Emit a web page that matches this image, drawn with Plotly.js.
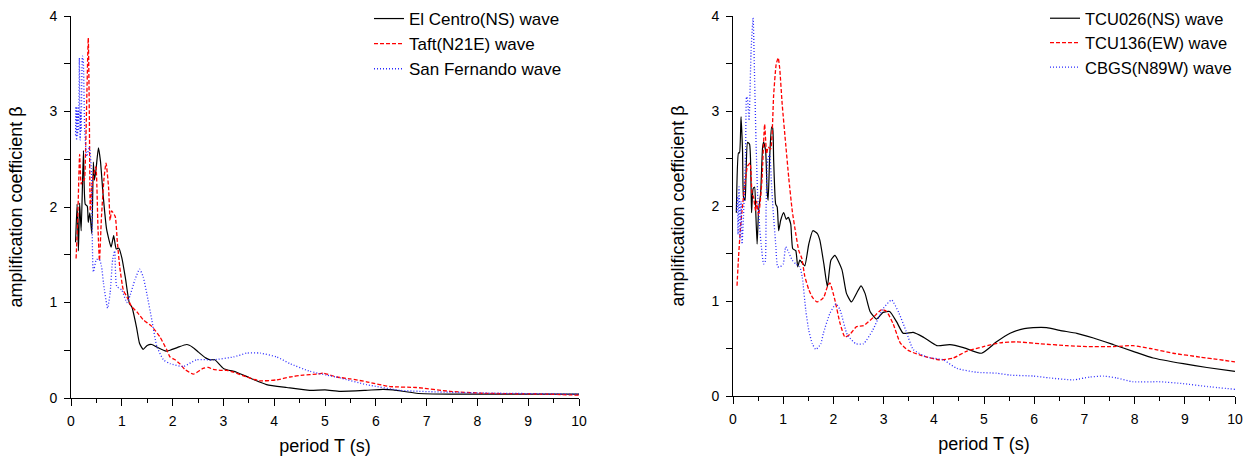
<!DOCTYPE html>
<html><head><meta charset="utf-8">
<script src="https://cdn.plot.ly/plotly-3.0.1.min.js"></script>
<style>html,body{margin:0;padding:0;background:#fff}#chart{width:1252px;height:460px}</style>
</head><body><div id="chart"></div>
<script>
// ---- Left panel: El Centro / Taft / San Fernando ----
const elCentroT = [0.09,0.12,0.146,0.17,0.2,0.245,0.28,0.32,0.34,0.37,0.41,0.44,0.46,0.49,0.54,0.58,0.63,0.70,0.79,0.84,0.89,0.94,1.0,1.07,1.15,1.2,1.29,1.35,1.42,1.5,1.59,1.7,1.87,1.95,2.1,2.28,2.4,2.51,2.65,2.74,2.83,3.0,3.26,3.52,3.85,4.25,4.7,5.0,5.3,5.8,6.14,6.34,6.8,7.46,8.1,9.0,10];
const elCentroB = [1.63,2.03,1.54,2.04,1.75,2.59,2.03,2.01,1.84,1.94,1.72,2.47,2.28,2.38,2.62,2.48,2.14,1.77,1.58,1.70,1.56,1.57,1.47,1.26,0.99,0.95,0.74,0.57,0.51,0.55,0.56,0.53,0.49,0.50,0.53,0.56,0.53,0.48,0.42,0.40,0.40,0.31,0.27,0.21,0.14,0.11,0.08,0.085,0.07,0.08,0.09,0.085,0.05,0.04,0.04,0.04,0.04];

const taftT = [0.1,0.13,0.17,0.2,0.23,0.26,0.29,0.34,0.36,0.38,0.41,0.45,0.49,0.53,0.56,0.6,0.65,0.69,0.74,0.77,0.8,0.87,0.91,0.96,1.03,1.1,1.19,1.3,1.42,1.59,1.75,1.88,1.95,2.05,2.14,2.24,2.41,2.6,2.7,2.8,2.93,3.07,3.2,3.46,3.72,4.05,4.31,4.57,4.84,4.97,5.23,5.5,5.82,6.28,6.8,7.46,8.1,9.4,10];
const taftB = [1.46,1.82,2.55,2.24,2.28,2.28,2.66,3.77,3.0,1.96,2.21,2.35,2.42,1.8,1.44,1.9,2.3,2.46,2.2,1.86,1.96,1.9,1.65,1.37,1.13,1.06,0.96,0.9,0.82,0.75,0.64,0.51,0.43,0.40,0.36,0.30,0.25,0.31,0.32,0.30,0.29,0.29,0.27,0.22,0.18,0.19,0.22,0.24,0.25,0.26,0.22,0.20,0.17,0.12,0.11,0.07,0.05,0.04,0.03];

const sanFernT = [0.09,0.1,0.11,0.12,0.13,0.14,0.15,0.165,0.18,0.19,0.2,0.225,0.24,0.27,0.31,0.36,0.4,0.44,0.5,0.56,0.6,0.64,0.72,0.77,0.82,0.86,0.9,1.0,1.1,1.16,1.26,1.35,1.42,1.49,1.59,1.69,1.82,1.95,2.21,2.47,2.8,3.2,3.46,3.72,4.05,4.31,4.7,5.03,5.3,5.82,6.48,7.46,8.44,10];
const sanFernB = [2.75,3.05,2.7,3.0,2.75,3.05,2.8,3.56,2.7,3.0,2.8,3.58,3.55,2.8,2.53,2.63,2.4,1.32,1.45,1.45,1.38,1.2,0.94,1.1,1.45,1.54,1.17,1.13,1.0,1.07,1.24,1.35,1.27,1.1,0.82,0.54,0.40,0.36,0.33,0.40,0.40,0.43,0.47,0.47,0.43,0.36,0.28,0.24,0.21,0.14,0.08,0.06,0.05,0.04];

// ---- Right panel: TCU026 / TCU136 / CBGS ----
const tcu026T = [0.067,0.11,0.13,0.16,0.19,0.21,0.24,0.26,0.29,0.33,0.36,0.37,0.4,0.43,0.45,0.48,0.51,0.55,0.59,0.61,0.65,0.68,0.7,0.73,0.77,0.79,0.81,0.85,0.88,0.91,0.95,1.01,1.06,1.1,1.15,1.19,1.25,1.29,1.33,1.38,1.43,1.51,1.59,1.68,1.73,1.81,1.88,1.95,2.03,2.17,2.26,2.36,2.47,2.55,2.63,2.73,2.86,2.99,3.12,3.26,3.39,3.59,3.79,4.06,4.32,4.59,4.95,5.25,5.52,5.8,5.98,6.25,6.51,6.85,7.18,7.58,7.97,8.37,8.97,9.44,10];
const tcu026B = [1.93,2.56,2.56,2.94,2.58,2.09,2.06,2.35,2.67,2.65,2.2,1.93,2.18,2.2,1.99,1.60,1.95,2.13,2.62,2.67,2.58,2.15,2.06,2.51,2.83,2.82,2.48,2.02,1.99,1.74,1.85,1.93,1.86,1.88,1.81,1.55,1.53,1.36,1.43,1.40,1.37,1.60,1.74,1.71,1.64,1.39,1.15,1.43,1.48,1.33,1.08,0.99,1.09,1.16,1.08,0.89,0.81,0.88,0.89,0.78,0.66,0.67,0.62,0.53,0.54,0.51,0.45,0.57,0.66,0.71,0.72,0.72,0.69,0.66,0.61,0.54,0.47,0.40,0.34,0.30,0.26];

const tcu136T = [0.08,0.11,0.15,0.18,0.23,0.29,0.34,0.38,0.41,0.45,0.47,0.51,0.55,0.58,0.63,0.67,0.70,0.75,0.81,0.86,0.9,0.93,0.98,1.05,1.11,1.18,1.25,1.31,1.37,1.43,1.51,1.58,1.67,1.75,1.81,1.88,1.93,2.03,2.13,2.23,2.33,2.46,2.6,2.8,2.96,3.06,3.19,3.33,3.49,3.73,4.12,4.39,4.65,4.99,5.32,5.65,6.12,6.65,7.05,7.58,7.97,8.31,8.77,9.3,10];
const tcu136B = [1.16,1.46,1.78,1.95,2.2,2.42,2.45,2.13,2.09,1.95,2.05,1.9,2.09,2.30,2.86,2.55,2.62,2.6,3.17,3.49,3.56,3.45,3.07,2.65,2.3,1.95,1.71,1.53,1.45,1.26,1.12,1.04,0.99,1.01,1.04,1.15,1.19,1.01,0.77,0.62,0.65,0.73,0.74,0.83,0.91,0.89,0.76,0.56,0.48,0.43,0.38,0.40,0.47,0.52,0.56,0.57,0.55,0.53,0.52,0.52,0.53,0.50,0.45,0.41,0.36];

const cbgsT = [0.07,0.09,0.1,0.12,0.14,0.16,0.18,0.21,0.25,0.27,0.29,0.32,0.36,0.4,0.43,0.46,0.49,0.53,0.56,0.61,0.64,0.66,0.69,0.73,0.77,0.8,0.85,0.89,0.94,1.0,1.05,1.11,1.18,1.25,1.33,1.38,1.45,1.51,1.58,1.65,1.75,1.8,1.93,2.05,2.13,2.28,2.45,2.6,2.78,2.99,3.16,3.3,3.45,3.59,3.86,4.19,4.46,4.85,5.25,5.52,5.98,6.31,6.78,7.11,7.38,7.64,7.97,8.5,8.97,9.44,10];
const cbgsB = [1.95,2.1,1.7,2.2,1.65,2.05,1.6,1.9,2.55,3.15,3.12,2.9,3.63,3.98,3.35,2.65,2.13,1.78,1.6,1.39,1.41,2.0,2.48,2.55,2.2,1.95,1.6,1.36,1.36,1.39,1.57,1.51,1.43,1.39,1.36,1.25,0.9,0.69,0.55,0.49,0.55,0.66,0.87,0.97,0.91,0.64,0.55,0.55,0.69,0.92,1.01,0.88,0.68,0.49,0.41,0.38,0.29,0.25,0.24,0.22,0.21,0.19,0.17,0.20,0.21,0.19,0.15,0.15,0.13,0.10,0.07];

const leftNames = ['El Centro(NS) wave','Taft(N21E) wave','San Fernando wave'];
const rightNames = ['TCU026(NS) wave','TCU136(EW) wave','CBGS(N89W) wave'];
const xTitle = 'period T (s)';
const yTitle = 'amplification coefficient β';

const FONT = 'Liberation Sans, Arial, sans-serif';
const W = 1252, H = 460;
const styles = [
  {color:'#000000', width:1.2, dash:'solid'},
  {color:'#ff0000', width:1.3, dash:'4px,2px'},
  {color:'#2a2aff', width:1.3, dash:'1px,2px'}
];
const sh = {shape:'spline', smoothing:0.5};

function tr(x, y, name, s, xa, ya, leg) {
  return {x:x, y:y, name:name, type:'scatter', mode:'lines', xaxis:xa, yaxis:ya, legend:leg,
    line:Object.assign({}, s, sh), hoverinfo:'x+y+name'};
}
const data = [
  tr(elCentroT, elCentroB, leftNames[0], styles[0], 'x', 'y', 'legend'),
  tr(taftT, taftB, leftNames[1], styles[1], 'x', 'y', 'legend'),
  tr(sanFernT, sanFernB, leftNames[2], styles[2], 'x', 'y', 'legend'),
  tr(tcu026T, tcu026B, rightNames[0], styles[0], 'x2', 'y2', 'legend2'),
  tr(tcu136T, tcu136B, rightNames[1], styles[1], 'x2', 'y2', 'legend2'),
  tr(cbgsT, cbgsB, rightNames[2], styles[2], 'x2', 'y2', 'legend2')
];

function xax(dom, anchor) {
  return {domain:dom, anchor:anchor, range:[0,10], dtick:1, tick0:0, showgrid:false, zeroline:false,
    showline:true, linecolor:'#000', linewidth:1, ticks:'outside', ticklen:7, tickwidth:1, tickcolor:'#000',
    ticklabelstandoff:3,
    minor:{dtick:0.5, ticks:'outside', ticklen:4, tickwidth:1, tickcolor:'#000', showgrid:false},
    tickfont:{family:FONT, size:14, color:'#000'},
    title:{text:xTitle, font:{family:FONT, size:18, color:'#000'}, standoff:11}};
}
function yax(dom, anchor) {
  return {domain:dom, anchor:anchor, range:[0,4], dtick:1, tick0:0, showgrid:false, zeroline:false,
    showline:true, linecolor:'#000', linewidth:1, ticks:'outside', ticklen:6, tickwidth:1, tickcolor:'#000',
    ticklabelstandoff:4,
    minor:{dtick:0.5, ticks:'outside', ticklen:6, tickwidth:1, tickcolor:'#000', showgrid:false},
    tickfont:{family:FONT, size:14, color:'#000'},
    title:{text:yTitle, font:{family:FONT, size:18, color:'#000'}, standoff:22}};
}

const layout = {
  width:W, height:H, margin:{l:0,r:0,t:0,b:0}, paper_bgcolor:'#fff', plot_bgcolor:'#fff',
  showlegend:true,
  xaxis: xax([71/W, 579/W], 'y'),
  yaxis: yax([1-398/H, 1-16/H], 'x'),
  xaxis2: xax([733/W, 1235/W], 'y2'),
  yaxis2: yax([1-396/H, 1-16/H], 'x2'),
  legend:{x:369/W, y:1-1/H, xanchor:'left', yanchor:'top', bgcolor:'rgba(0,0,0,0)', borderwidth:0,
    font:{family:FONT, size:17, color:'#000'}, tracegroupgap:0},
  legend2:{x:1045/W, y:1-1/H, xanchor:'left', yanchor:'top', bgcolor:'rgba(0,0,0,0)', borderwidth:0,
    font:{family:FONT, size:16.5, color:'#000'}, tracegroupgap:0}
};
Plotly.newPlot('chart', data, layout, {displayModeBar:false, staticPlot:true});
</script>
</body></html>
